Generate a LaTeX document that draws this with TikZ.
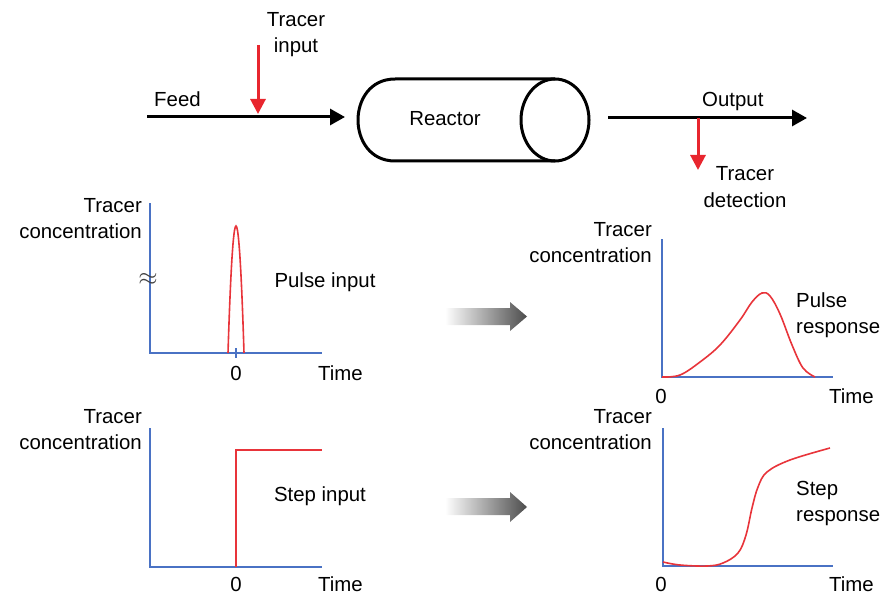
\documentclass[tikz,border=0pt]{standalone}
\usepackage{fontspec}
\setmainfont{Liberation Sans}
\usetikzlibrary{arrows.meta}
\definecolor{axisblue}{HTML}{4A72C4}
\definecolor{tracerred}{HTML}{E8262E}
\definecolor{curvered}{HTML}{E8343A}
\begin{document}
\begin{tikzpicture}[x=1pt,y=-1pt,
  lbl/.style={font=\fontsize{20.4}{26}\selectfont, inner sep=0pt},
  flow/.style={line width=3pt, -{Triangle[length=15pt,width=16pt]}},
  tracer/.style={draw=tracerred, line width=3pt, -{Triangle[length=15pt,width=15pt]}, tracerred},
  axis/.style={draw=axisblue, line width=2.8pt},
  curve/.style={draw=curvered, line width=1.6pt},
  grayarrow/.style={left color=white, right color=black!70}
]
\useasboundingbox (0,0) rectangle (885,596);

% ---------- process flow ----------
\coordinate (feedin) at (147,117);
\coordinate (feedtip) at (345,117);
\coordinate (tinstart) at (258,45);
\coordinate (tinend) at (258,114);
\coordinate (outstart) at (608,118);
\coordinate (outtip) at (807,118);
\coordinate (detstart) at (698,118);
\coordinate (detend) at (698,170);

\draw[flow] (feedin) -- (feedtip);
\draw[flow] (outstart) -- (outtip);
\draw[tracer] (tinstart) -- (tinend);
\draw[tracer] (detstart) -- (detend);

% multi-line labels are placed by the baseline of their last line
\node[lbl, anchor=base west] (feed) at (154,107) {Feed};
\node[lbl, anchor=base west] (output) at (702,107) {Output};
\node[lbl, align=center, anchor=base] (tracerin) at (296,53) {Tracer\\input};
\node[lbl, align=center, anchor=base] (tracerdet) at (745,207) {Tracer\\detection};

% reactor vessel
\draw[line width=3pt, line join=round]
  (395,79) -- (555,79)
  (395,161) -- (555,161)
  (395,79) .. controls (370,79) and (358,100) .. (358,120)
           .. controls (358,140) and (370,161) .. (395,161);
\draw[line width=3pt] (555,120) ellipse [x radius=34, y radius=41];
\node[lbl, anchor=base] (reactor) at (445,126) {Reactor};

% ---------- pulse input ----------
\draw[axis] (150,203) -- (150,353) -- (322,353);
\draw[axis] (236,348) -- (236,358);
\draw[curve] (228,353) parabola bend (236,226) (244,353);
\node[lbl, align=right, anchor=base east] (yl1) at (142,238) {Tracer\\concentration};
\node[inner sep=0pt, text=black!75, font=\fontsize{26}{26}\selectfont] (brk) at (148,279) {$\approx$};
\node[lbl, anchor=base] (zero1) at (236,380) {0};
\node[lbl, anchor=base west] (time1) at (318,380) {Time};
\node[lbl, anchor=base] (pin) at (325,287) {Pulse input};

% ---------- step input ----------
\draw[axis] (150,428) -- (150,567) -- (322,567);
\draw[curve] (236,567) -- (236,450) -- (322,450);
\node[lbl, align=right, anchor=base east] (yl2) at (142,449) {Tracer\\concentration};
\node[lbl, anchor=base] (zero2) at (236,591) {0};
\node[lbl, anchor=base west] (time2) at (318,591) {Time};
\node[lbl, anchor=base] (sin) at (320,501) {Step input};

% ---------- transition arrows ----------
\shade[grayarrow] (445,308) -- (510,308) -- (510,302) -- (527,316.5)
  -- (510,331) -- (510,325) -- (445,325) -- cycle;
\shade[grayarrow] (445,498) -- (510,498) -- (510,492) -- (527,507)
  -- (510,522) -- (510,515) -- (445,515) -- cycle;

% ---------- pulse response ----------
\draw[axis] (662,239) -- (662,377) -- (833,377);
\draw[curve] plot[smooth, tension=0.6] coordinates {
  (662,377) (680,375) (700,362) (720,345) (740,320) (752,302) (762,293)
  (770,296) (780,314) (792,345) (803,368) (815,377)};
\node[lbl, align=right, anchor=base east] (yl3) at (652,262) {Tracer\\concentration};
\node[lbl, anchor=base] (zero3) at (661,403) {0};
\node[lbl, anchor=base west] (time3) at (829,403) {Time};
\node[lbl, align=left, anchor=base west] (pres) at (796,333) {Pulse\\response};

% ---------- step response ----------
\draw[axis] (663,428) -- (663,566) -- (833,566);
\draw[curve] plot[smooth, tension=0.6] coordinates {
  (663,562) (680,565) (707,566) (723,563) (738,553) (746,535) (752,508) (758,487)
  (767,472) (790,460) (830,448)};
\node[lbl, align=right, anchor=base east] (yl4) at (652,449) {Tracer\\concentration};
\node[lbl, anchor=base] (zero4) at (661,591) {0};
\node[lbl, anchor=base west] (time4) at (829,591) {Time};
\node[lbl, align=left, anchor=base west] (sres) at (796,521) {Step\\response};
\end{tikzpicture}
\end{document}
